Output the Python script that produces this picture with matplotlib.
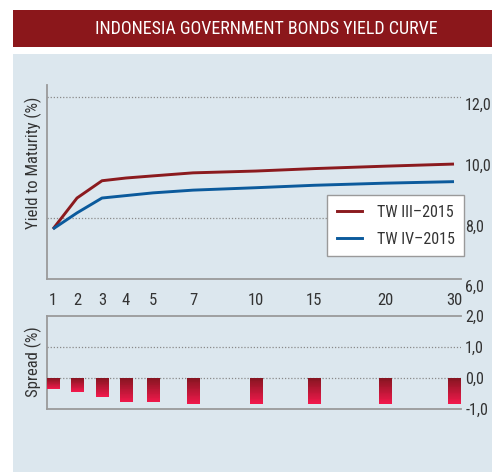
import numpy as np
import matplotlib
matplotlib.use('Agg')
import matplotlib.pyplot as plt
from matplotlib import font_manager as fm
from matplotlib.patches import Rectangle
from matplotlib.lines import Line2D
from matplotlib.transforms import ScaledTranslation
from matplotlib.colors import to_rgb

# ---------------- data ----------------
tenors = [1, 2, 3, 4, 5, 7, 10, 15, 20, 30]
tenor_labels = ['1', '2', '3', '4', '5', '7', '10', '15', '20', '30']
yield_tw3 = [7.65, 8.67, 9.24, 9.33, 9.40, 9.50, 9.56, 9.64, 9.72, 9.79]
yield_tw4 = [7.65, 8.18, 8.67, 8.75, 8.84, 8.93, 9.01, 9.09, 9.16, 9.21]
spread = [-0.36, -0.44, -0.60, -0.79, -0.79, -0.85, -0.83, -0.83, -0.83, -0.83]
series_labels = ['TW III\u20132015', 'TW IV\u20132015']
yield_ticks = [6, 8, 10, 12]
yield_ticklabels = ['6,0', '8,0', '10,0', '12,0']
spread_ticks = [-1, 0, 1, 2]
spread_ticklabels = ['-1,0', '0,0', '1,0', '2,0']
title = 'INDONESIA GOVERNMENT BONDS YIELD CURVE'
ylabel_top = 'Yield to Maturity (%)'
ylabel_bottom = 'Spread (%)'

# ---------------- x-axis scale (non-uniform tenor axis) ----------------
SCALE_T = [0.75, 1, 2, 3, 4, 5, 7, 10, 15, 20, 30, 31]
SCALE_X = [0, 6, 30, 55, 79, 106, 146, 209, 267, 338, 407, 414]

def fwd(t):
    return np.interp(t, SCALE_T, SCALE_X)

def inv(x):
    return np.interp(x, SCALE_X, SCALE_T)

# ---------------- fonts ----------------
names = {f.name for f in fm.fontManager.ttflist}
FONT, STRETCH = 'DejaVu Sans', 'condensed'
for cand in ['Liberation Sans Narrow', 'Roboto Condensed', 'Open Sans Condensed',
             'Noto Sans Condensed', 'Arial Narrow']:
    if cand in names:
        FONT, STRETCH = cand, 'normal'
        break
plt.rcParams['font.family'] = [FONT, 'DejaVu Sans']
plt.rcParams['font.stretch'] = STRETCH

TXT = '#333333'
RED = '#8B1A1E'
BLUE = '#0B5A9C'
SPINE = '#9A9A9A'
W, H = 492, 472
FS = 11

fig = plt.figure(figsize=(W / 100, H / 100), dpi=100)
fig.patch.set_facecolor('white')

# background panel and title bar
fig.patches.append(Rectangle((13 / W, 0), (W - 13) / W, (H - 54) / H,
                             transform=fig.transFigure, facecolor='#DCE7EE',
                             edgecolor='none', zorder=-5))
fig.patches.append(Rectangle((13 / W, 1 - 46.5 / H), (W - 13) / W, 36.5 / H,
                             transform=fig.transFigure, facecolor='#8B171B',
                             edgecolor='none', zorder=-5))
fig.text(266 / W, 1 - 28.5 / H, title, color='white', ha='center',
         va='center', fontsize=13)

# ---------------- top axes ----------------
ax = fig.add_axes([47 / W, (H - 279) / H, 414 / W, (279 - 84.9) / H])
ax.set_facecolor('none')
ax.set_xscale('function', functions=(fwd, inv))
ax.set_xlim(0.75, 31)
ax.set_ylim(6, 12.4)
for s in ['top', 'right']:
    ax.spines[s].set_visible(False)
for s in ['left', 'bottom']:
    ax.spines[s].set_color(SPINE)
    ax.spines[s].set_linewidth(1.3)
for g in [8, 12]:
    ax.axhline(g, color='#8A8A8A', lw=0.9, ls=(0, (1, 1.5)), zorder=1)
ax.plot(tenors, yield_tw3, color=RED, lw=2.1, zorder=3, solid_capstyle='butt')
ax.plot(tenors, yield_tw4, color=BLUE, lw=2.1, zorder=3, solid_capstyle='butt')
ax.set_xticks(tenors)
ax.set_xticklabels(tenor_labels)
ax.xaxis.set_minor_locator(matplotlib.ticker.NullLocator())
ax.tick_params(axis='x', length=0, pad=10, labelsize=FS + 1, labelcolor=TXT)
ax.yaxis.tick_right()
ax.set_yticks(yield_ticks)
ax.set_yticklabels(yield_ticklabels)
ax.tick_params(axis='y', length=0, pad=3, labelsize=FS + 0.5, labelcolor=TXT)
off = ScaledTranslation(0, -7 / 100, fig.dpi_scale_trans)
for lab in ax.get_yticklabels():
    lab.set_transform(lab.get_transform() + off)

handles = [Line2D([], [], color=RED, lw=2.1), Line2D([], [], color=BLUE, lw=2.1)]
leg = ax.legend(handles, series_labels, loc='upper left',
                bbox_to_anchor=(327 / W, 1 - 195 / H), bbox_transform=fig.transFigure,
                frameon=True, fancybox=False, edgecolor=SPINE, facecolor='white',
                framealpha=1, fontsize=FS + 0.5, handlelength=1.6, handletextpad=0.9,
                borderpad=0.6, labelspacing=0.75, borderaxespad=0)
leg.get_frame().set_linewidth(1.0)
for tx in leg.get_texts():
    tx.set_color(TXT)

# ---------------- bottom axes ----------------
bx = fig.add_axes([47 / W, (H - 409) / H, 414 / W, (409 - 316) / H])
bx.set_facecolor('none')
bx.set_xscale('function', functions=(fwd, inv))
bx.set_xlim(0.75, 31)
bx.set_ylim(-1, 2)
bx.spines['right'].set_visible(False)
for s in ['top', 'left', 'bottom']:
    bx.spines[s].set_color(SPINE)
    bx.spines[s].set_linewidth(1.3)
for g in [0, 1]:
    bx.axhline(g, color='#8A8A8A', lw=0.9, ls=(0, (1, 1.5)), zorder=1)
bx.set_xticks([])
bx.xaxis.set_minor_locator(matplotlib.ticker.NullLocator())
bx.yaxis.tick_right()
bx.set_yticks(spread_ticks)
bx.set_yticklabels(spread_ticklabels)
bx.tick_params(axis='y', length=0, pad=3, labelsize=FS + 0.5, labelcolor=TXT)

# gradient bars (dark red at top -> bright crimson at bottom)
c_top = np.array(to_rgb('#851520'))
c_bot = np.array(to_rgb('#F2194C'))
tx_ = np.array(tenors, dtype=float)
vals = np.array(spread)
cpix = fwd(tx_)
lefts = inv(cpix - 6.5)
rights = inv(cpix + 6.5)
n = 30
for k in range(n):
    f0, f1 = k / n, (k + 1) / n
    col = c_top + (c_bot - c_top) * (f0 + f1) / 2
    bx.bar(lefts, vals * (f1 - f0), bottom=vals * f0, width=rights - lefts,
           align='edge', color=col, linewidth=0, antialiased=False, zorder=3)

# y labels
fig.text(33 / W, 1 - 162.5 / H, ylabel_top, rotation=90, ha='center',
         va='center', fontsize=FS + 1, color=TXT)
fig.text(33 / W, 1 - 361.5 / H, ylabel_bottom, rotation=90, ha='center',
         va='center', fontsize=FS + 1, color=TXT)

fig.savefig('out.png', dpi=100, facecolor='white')
